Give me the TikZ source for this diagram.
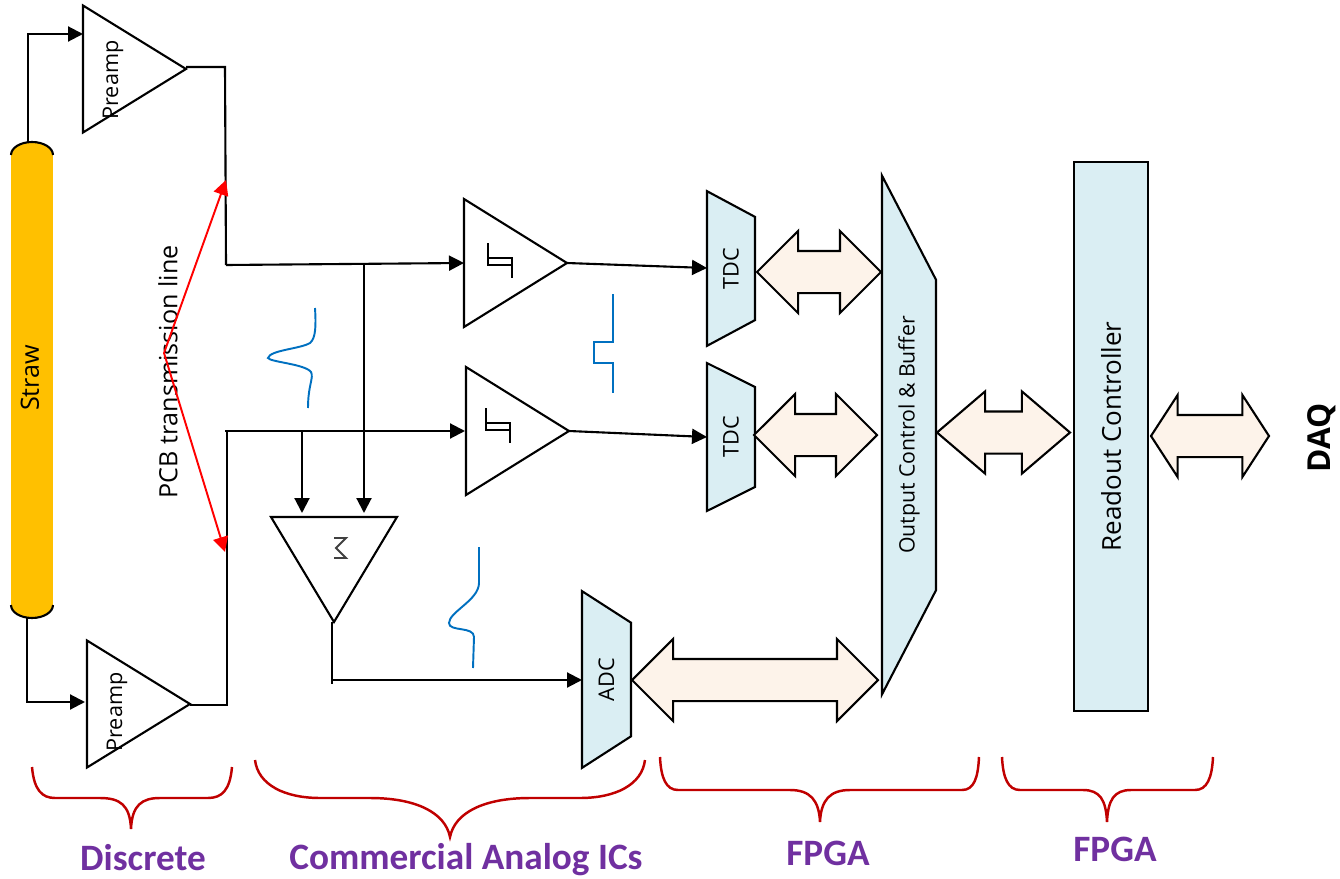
\documentclass[tikz,border=0pt]{standalone}
\usepackage{fontspec}
\setmainfont{Open Sans}
\newfontfamily\groupfont{Carlito}
\usetikzlibrary{arrows.meta,shapes.geometric,shapes.arrows}
\definecolor{strawcol}{HTML}{FFC000}
\definecolor{boxcol}{HTML}{DAEEF3}
\definecolor{buscol}{HTML}{FDF3EA}
\definecolor{wavecol}{HTML}{0070C0}
\definecolor{bracecol}{HTML}{C00000}
\definecolor{groupcol}{HTML}{7030A0}
\newcommand{\px}{0.02cm}
\tikzset{
  wire/.style={draw=black,line width=1.2pt},
  sig/.style={wire,-{Triangle[length=0.3cm,width=0.3cm]}},
  pcb/.style={draw=red,line width=1.1pt,-{Triangle[length=0.3cm,width=0.3cm]}},
  wave/.style={draw=wavecol,line width=1.1pt},
  curly/.style={draw=bracecol,line width=1.4pt},
  amp/.style={isosceles triangle,isosceles triangle stretches,draw,line width=1.2pt,inner sep=0pt,outer sep=0pt,anchor=apex},
  conv/.style={trapezium,trapezium stretches=true,shape border rotate=270,draw,fill=boxcol,line width=1.2pt,inner sep=0pt,outer sep=0pt},
  bus/.style={double arrow,draw,fill=buscol,line width=1.2pt,inner xsep=0pt,inner ysep=20*\px,outer sep=0pt,minimum width=80*\px,double arrow head extend=20*\px},
  lab/.style={font=\fontsize{14.3}{17}\selectfont},
  smalllab/.style={font=\fontsize{12.3}{14}\selectfont},
  group/.style={text=groupcol,inner sep=0pt,font=\groupfont\bfseries\fontsize{21.2}{24}\selectfont}
}
\begin{document}
\begin{tikzpicture}[x=\px,y=-\px]
\useasboundingbox (0,0) rectangle (1340,879);

% Straw
\node[fill=strawcol,minimum width=42*\px,minimum height=450*\px,inner sep=0pt,outer sep=0pt] (straw) at (32,380) {};
\draw[wire,fill=strawcol] (straw.north west) arc[start angle=180,end angle=360,x radius=21,y radius=13];
\draw[wire,fill=strawcol] (straw.south west) arc[start angle=180,end angle=0,x radius=21,y radius=13];
\node[lab,rotate=90] (strawlab) at (30,378) {Straw};
\coordinate (strawtop) at (28,142);
\coordinate (strawbot) at (27,618);

% Amplifiers
\node[amp,minimum height=103*\px,minimum width=127*\px] (pre1) at (186,69) {};
\node[amp,minimum height=103*\px,minimum width=127*\px] (pre2) at (190,704) {};
\node[amp,minimum height=103*\px,minimum width=128*\px] (comp1) at (567,263) {};
\node[amp,minimum height=103*\px,minimum width=128*\px] (comp2) at (569,431) {};
\node[amp,shape border rotate=270,minimum width=126*\px,minimum height=105*\px] (sum) at (334,622) {};

% Converters
\node[conv,trapezium left angle=57,trapezium right angle=57,minimum width=155*\px,minimum height=48*\px] (tdc1) at (731,268.5) {\rotatebox{90}{\fontsize{12.3}{14}\selectfont TDC}};
\node[conv,trapezium left angle=58,trapezium right angle=58,minimum width=148*\px,minimum height=48*\px] (tdc2) at (731,437) {\rotatebox{90}{\fontsize{12.3}{14}\selectfont TDC}};
\node[conv,trapezium left angle=53,trapezium right angle=53,minimum width=177*\px,minimum height=49*\px] (adc) at (606.5,679.5) {\rotatebox{90}{\fontsize{12.3}{14}\selectfont ADC}};
\node[conv,trapezium left angle=15,trapezium right angle=15,minimum width=520*\px,minimum height=54*\px] (out) at (909,435) {\rotatebox{90}{\fontsize{12.1}{14}\selectfont Output Control \& Buffer}};
\node[draw,fill=boxcol,line width=1.2pt,inner sep=0pt,outer sep=0pt,minimum width=74*\px,minimum height=549*\px] (ctrl) at (1111,436.5) {\rotatebox{90}{\fontsize{14.8}{17}\selectfont Readout Controller}};

% Buses
\node[bus,minimum height=124*\px] (bus1) at (819,272) {};
\node[bus,minimum height=123*\px] (bus2) at (815.5,435) {};
\node[bus,minimum height=246*\px] (bus3) at (755,680) {};
\node[bus,minimum height=133*\px,double arrow tip angle=81] (bus4) at (1003.5,432.5) {};
\node[bus,minimum height=118*\px,double arrow tip angle=114] (bus5) at (1210,436) {};

% Wires
\coordinate (pre1out) at (186,67);
\coordinate (pre1in) at (83,34);
\coordinate (up1) at (225,67);
\coordinate (up2) at (226,265);
\coordinate (comp1in) at (464,263);
\coordinate (tap1) at (364,264.5);
\coordinate (pre2out) at (190,705);
\coordinate (pre2in) at (85,702);
\coordinate (low1) at (227,705);
\coordinate (low2) at (225,431);
\coordinate (low3) at (227,431);
\coordinate (comp2in) at (465,431);
\coordinate (tap2) at (302,431);
\coordinate (sum1) at (302,513);
\coordinate (sum2) at (364,513);
\coordinate (sumout) at (332,622);
\coordinate (sumfoot) at (332,684);
\coordinate (adcfoot) at (332,680);
\coordinate (adcin) at (582,680);
\coordinate (tdc1in) at (707,268);
\coordinate (tdc2in) at (707,437);
\draw[sig] (strawtop) |- (pre1in);
\draw[sig] (strawbot) |- (pre2in);
\draw[wire] (pre1out) -- (up1) -- (up2);
\draw[sig] (up2) -- (comp1in);
\draw[wire] (pre2out) -- (low1) -- (low3);
\draw[sig] (low2) -- (comp2in);
\draw[sig] (tap1) -- (sum2);
\draw[sig] (tap2) -- (sum1);
\draw[wire] (sumout) -- (sumfoot);
\draw[sig] (adcfoot) -- (adcin);
\draw[sig] (comp1.apex) -- (tdc1in);
\draw[sig] (comp2.apex) -- (tdc2in);

% Symbols
\draw[wire] (488,243) -- (488,265) -- (512,265);
\draw[wire] (488,258) -- (512,258) -- (512,278);
\draw[wire] (486,408) -- (486,430) -- (510,430);
\draw[wire] (486,423) -- (510,423) -- (510,443);
\draw[draw=black!75,line width=1.1pt] (334,538) -- (346,538) -- (336,548) -- (346,558) -- (334,558);

% Waves
\draw[wave] (315,308) .. controls (316,325) and (316,338) .. (310,343) .. controls (300,349) and (270,350) .. (268,358) .. controls (270,362) and (305,364) .. (311,372) .. controls (314,378) and (308,385) .. (308,408);
\draw[wave] (613,294) -- (613,342) -- (594,342) -- (594,363) -- (613,363) -- (613,393);
\draw[wave] (479,547) -- (479,583) .. controls (479,600) and (449,612) .. (449,623) .. controls (449,632) and (474,626) .. (474,637) -- (473,668);

% Labels
\node[smalllab,rotate=90] (pre1lab) at (113,80) {Preamp};
\node[smalllab,rotate=90] (pre2lab) at (117,712) {Preamp};
\node[lab,rotate=90] (pcblab) at (168,372) {PCB transmission line};
\node[rotate=90,font=\bfseries\fontsize{18}{21}\selectfont] (daq) at (1322,438) {DAQ};

% PCB arrows
\coordinate (pcbmid) at (164,353);
\coordinate (pcbtop) at (226,180);
\coordinate (pcbbot) at (225,552);
\draw[pcb] (pcbmid) -- (pcbtop);
\draw[pcb] (pcbmid) -- (pcbbot);

% Braces
\draw[curly] (32,767) .. controls (34,790) and (42,798) .. (55,798) -- (100,798) .. controls (120,798) and (130,805) .. (131,829) .. controls (132,805) and (142,798) .. (160,798) -- (208,798) .. controls (222,798) and (230,790) .. (232,767);
\draw[curly] (255,760) .. controls (258,785) and (285,798) .. (320,798) -- (370,798) .. controls (415,798) and (445,812) .. (450,837) .. controls (455,812) and (485,798) .. (530,798) -- (580,798) .. controls (615,798) and (642,785) .. (645,760);
\draw[curly] (660,757) .. controls (661,778) and (666,790) .. (678,790) -- (790,790) .. controls (810,790) and (819,800) .. (820,822) .. controls (821,800) and (830,790) .. (850,790) -- (962,790) .. controls (974,790) and (978,778) .. (979,757);
\draw[curly] (1002,757) .. controls (1003,778) and (1008,790) .. (1020,790) -- (1083,790) .. controls (1100,790) and (1106,800) .. (1107,822) .. controls (1108,800) and (1114,790) .. (1131,790) -- (1195,790) .. controls (1207,790) and (1212,778) .. (1213,757);

% Groups
\node[group] (discrete) at (143,858) {Discrete};
\node[group] (analog) at (466,860) {Commercial Analog ICs};
\node[group] (fpga1) at (828,853) {FPGA};
\node[group] (fpga2) at (1115,849) {FPGA};
\end{tikzpicture}
\end{document}
